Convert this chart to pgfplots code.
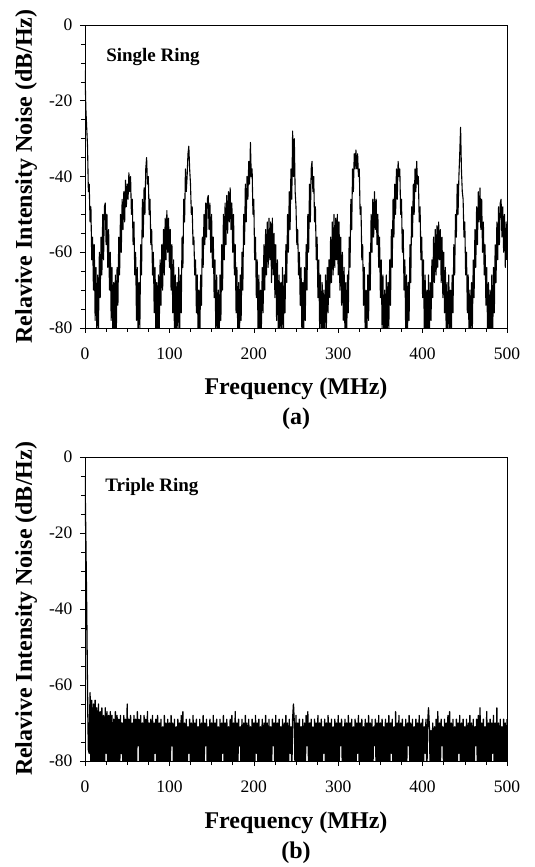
\documentclass[border=0pt]{standalone}
\usepackage{fontspec}
\setmainfont{Liberation Serif}
\usepackage{pgfplots}
\pgfplotsset{compat=1.18}

\pgfplotsset{
  rinpanel/.style={
    scale only axis, width=422pt, clip mode=individual,
    xmin=0, xmax=500, ymin=-80, ymax=0,
    xtick={0,100,...,500}, ytick={-80,-60,...,0},
    minor xtick={25,50,...,475}, minor ytick={-75,-70,...,-5},
    tick align=outside, major tick length=5pt, minor tick length=4pt,
    xtick pos=bottom, ytick pos=left,
    axis line style={line width=0.8pt},
    every tick/.style={black, line width=0.6pt},
    ticklabel style={font=\fontsize{17.5}{20}\selectfont},
    xticklabel style={yshift=-11pt},
    yticklabel style={xshift=-4pt},
    /pgf/number format/assume math mode=true,
    label style={font=\bfseries\fontsize{24}{28}\selectfont},
    xlabel={Frequency (MHz)},
    ylabel={Relavive Intensity Noise (dB/Hz)},
    xlabel style={at={(axis description cs:0.5,-0.221)}, anchor=base},
    ylabel style={at={(axis description cs:-0.1256,0.5)}, anchor=base},
  },
  rin/.style={black, line width=1.1pt, line join=round}
}

\begin{document}
\begin{tikzpicture}
\useasboundingbox (0pt,0pt) rectangle (535pt,867pt);

% (a) single ring
\begin{axis}[rinpanel, height=303pt, at={(85pt,539pt)}, anchor=south west]
\addplot[rin] coordinates {
(0,-12)(1,-22)(2,-27)(3,-32)(4,-44)(5,-42)(6,-52)(7,-48)(8,-62)(9,-56)
(10,-70)(11,-58)(12,-78)(13,-64)(14,-82)(15,-66)(16,-80)(17,-60)(18,-72)(19,-56)
(20,-66)(21,-50)(22,-62)(23,-48)(24,-47)(25,-58)(26,-50)(27,-64)(28,-54)(29,-70)
(30,-60)(31,-78)(32,-64)(33,-84)(34,-68)(35,-82)(36,-66)(37,-84)(38,-64)(39,-74)
(40,-56)(41,-66)(42,-50)(43,-60)(44,-46)(45,-54)(46,-44)(47,-52)(48,-41)(49,-48)
(50,-42)(51,-46)(52,-39)(53,-44)(54,-40)(55,-50)(56,-46)(57,-58)(58,-52)(59,-66)
(60,-60)(61,-78)(62,-64)(63,-84)(64,-68)(65,-80)(66,-58)(67,-66)(68,-46)(69,-56)
(70,-43)(71,-50)(72,-38)(73,-35)(74,-42)(75,-40)(76,-50)(77,-46)(78,-58)(79,-54)
(80,-66)(81,-60)(82,-76)(83,-64)(84,-82)(85,-68)(86,-84)(87,-66)(88,-80)(89,-62)
(90,-74)(91,-58)(92,-70)(93,-54)(94,-66)(95,-51)(96,-62)(97,-49)(98,-60)(99,-51)
(100,-64)(101,-54)(102,-70)(103,-58)(104,-76)(105,-62)(106,-82)(107,-66)(108,-84)(109,-68)
(110,-80)(111,-64)(112,-84)(113,-66)(114,-76)(115,-56)(116,-64)(117,-46)(118,-52)(119,-38)
(120,-44)(121,-40)(122,-34)(123,-32)(124,-38)(125,-42)(126,-50)(127,-48)(128,-58)(129,-56)
(130,-66)(131,-62)(132,-76)(133,-66)(134,-82)(135,-70)(136,-84)(137,-66)(138,-74)(139,-56)
(140,-64)(141,-50)(142,-58)(143,-47)(144,-56)(145,-46)(146,-45)(147,-54)(148,-47)(149,-60)
(150,-50)(151,-64)(152,-56)(153,-72)(154,-62)(155,-82)(156,-66)(157,-80)(158,-70)(159,-84)
(160,-66)(161,-78)(162,-58)(163,-70)(164,-50)(165,-62)(166,-47)(167,-58)(168,-45)(169,-55)
(170,-44)(171,-52)(172,-43)(173,-54)(174,-47)(175,-60)(176,-50)(177,-66)(178,-58)(179,-76)
(180,-64)(181,-82)(182,-68)(183,-84)(184,-66)(185,-78)(186,-60)(187,-70)(188,-50)(189,-58)
(190,-42)(191,-52)(192,-40)(193,-46)(194,-36)(195,-42)(196,-31)(197,-40)(198,-38)(199,-50)
(200,-46)(201,-62)(202,-56)(203,-72)(204,-62)(205,-80)(206,-66)(207,-84)(208,-70)(209,-80)
(210,-64)(211,-76)(212,-58)(213,-70)(214,-54)(215,-66)(216,-52)(217,-64)(218,-51)(219,-62)
(220,-52)(221,-68)(222,-51)(223,-66)(224,-55)(225,-72)(226,-58)(227,-78)(228,-62)(229,-82)
(230,-66)(231,-84)(232,-68)(233,-80)(234,-64)(235,-84)(236,-66)(237,-76)(238,-58)(239,-68)
(240,-50)(241,-60)(242,-44)(243,-54)(244,-38)(245,-46)(246,-28)(247,-40)(248,-30)(249,-44)
(250,-48)(251,-58)(252,-54)(253,-66)(254,-60)(255,-74)(256,-64)(257,-82)(258,-68)(259,-84)
(260,-64)(261,-78)(262,-58)(263,-70)(264,-50)(265,-60)(266,-42)(267,-52)(268,-38)(269,-36)
(270,-44)(271,-40)(272,-52)(273,-48)(274,-62)(275,-56)(276,-72)(277,-62)(278,-80)(279,-66)
(280,-84)(281,-68)(282,-82)(283,-70)(284,-84)(285,-66)(286,-80)(287,-64)(288,-76)(289,-62)
(290,-72)(291,-56)(292,-68)(293,-52)(294,-66)(295,-50)(296,-64)(297,-51)(298,-62)(299,-50)
(300,-66)(301,-52)(302,-70)(303,-56)(304,-74)(305,-60)(306,-78)(307,-64)(308,-82)(309,-68)
(310,-84)(311,-66)(312,-76)(313,-56)(314,-64)(315,-46)(316,-54)(317,-38)(318,-44)(319,-34)
(320,-38)(321,-33)(322,-38)(323,-34)(324,-40)(325,-38)(326,-50)(327,-48)(328,-62)(329,-58)
(330,-74)(331,-64)(332,-82)(333,-70)(334,-84)(335,-66)(336,-78)(337,-60)(338,-70)(339,-50)
(340,-60)(341,-46)(342,-56)(343,-44)(344,-54)(345,-46)(346,-58)(347,-50)(348,-64)(349,-56)
(350,-72)(351,-62)(352,-80)(353,-66)(354,-84)(355,-70)(356,-82)(357,-66)(358,-84)(359,-68)
(360,-80)(361,-62)(362,-74)(363,-54)(364,-64)(365,-46)(366,-56)(367,-42)(368,-50)(369,-38)
(370,-46)(371,-36)(372,-40)(373,-38)(374,-50)(375,-46)(376,-60)(377,-54)(378,-70)(379,-62)
(380,-82)(381,-66)(382,-84)(383,-68)(384,-78)(385,-58)(386,-68)(387,-48)(388,-56)(389,-42)
(390,-50)(391,-38)(392,-44)(393,-36)(394,-42)(395,-40)(396,-52)(397,-48)(398,-62)(399,-56)
(400,-72)(401,-62)(402,-80)(403,-66)(404,-84)(405,-70)(406,-82)(407,-66)(408,-84)(409,-68)
(410,-78)(411,-62)(412,-72)(413,-56)(414,-68)(415,-54)(416,-66)(417,-53)(418,-64)(419,-52)
(420,-62)(421,-54)(422,-68)(423,-56)(424,-72)(425,-60)(426,-76)(427,-64)(428,-82)(429,-68)
(430,-84)(431,-66)(432,-80)(433,-70)(434,-84)(435,-66)(436,-76)(437,-58)(438,-66)(439,-50)
(440,-56)(441,-42)(442,-50)(443,-40)(444,-34)(445,-27)(446,-38)(447,-44)(448,-46)(449,-56)
(450,-52)(451,-66)(452,-60)(453,-76)(454,-66)(455,-82)(456,-70)(457,-84)(458,-68)(459,-80)
(460,-62)(461,-72)(462,-54)(463,-64)(464,-48)(465,-58)(466,-44)(467,-52)(468,-43)(469,-54)
(470,-46)(471,-60)(472,-52)(473,-66)(474,-58)(475,-74)(476,-64)(477,-82)(478,-68)(479,-84)
(480,-70)(481,-80)(482,-66)(483,-84)(484,-64)(485,-76)(486,-58)(487,-68)(488,-52)(489,-62)
(490,-48)(491,-58)(492,-47)(493,-46)(494,-56)(495,-48)(496,-60)(497,-50)(498,-64)(499,-52)(500,-62)
};
\node[anchor=base west, font=\bfseries\fontsize{19}{22}\selectfont] at (rel axis cs:0.042,0.878) {Single Ring};
\node[anchor=base, font=\bfseries\fontsize{24}{28}\selectfont] at (rel axis cs:0.5,-0.32) {(a)};
\end{axis}

% (b) triple ring
\begin{axis}[rinpanel, height=304pt, at={(85pt,106pt)}, anchor=south west]
\addplot[rin, line width=1.3pt] coordinates {
(0,-5)(1,-22)(2,-40)(3,-62)(4,-77)(5,-78)(6,-62)(7,-84)(8,-64)(9,-84)
(10,-65)(11,-80)(12,-64)(13,-84)(14,-66)(15,-82)(16,-65)(17,-84)(18,-67)(19,-80)
(20,-66)(21,-84)(22,-68)(23,-84)(24,-66)(25,-78)(26,-67)(27,-84)(28,-68)(29,-84)
(30,-67)(31,-82)(32,-68)(33,-84)(34,-69)(35,-84)(36,-67)(37,-80)(38,-68)(39,-84)
(40,-69)(41,-84)(42,-68)(43,-78)(44,-70)(45,-84)(46,-68)(47,-84)(48,-69)(49,-82)
(50,-65)(51,-84)(52,-69)(53,-84)(54,-68)(55,-80)(56,-70)(57,-84)(58,-68)(59,-84)
(60,-69)(61,-84)(62,-67)(63,-76)(64,-69)(65,-84)(66,-68)(67,-84)(68,-70)(69,-82)
(70,-68)(71,-84)(72,-69)(73,-84)(74,-67)(75,-80)(76,-70)(77,-84)(78,-69)(79,-84)
(80,-68)(81,-84)(82,-70)(83,-78)(84,-69)(85,-84)(86,-68)(87,-84)(88,-70)(89,-82)
(90,-69)(91,-84)(92,-71)(93,-84)(94,-68)(95,-80)(96,-70)(97,-84)(98,-69)(99,-84)
(100,-70)(101,-84)(102,-68)(103,-76)(104,-70)(105,-84)(106,-69)(107,-84)(108,-71)(109,-82)
(110,-69)(111,-84)(112,-70)(113,-84)(114,-68)(115,-80)(116,-67)(117,-84)(118,-70)(119,-84)
(120,-69)(121,-84)(122,-71)(123,-78)(124,-69)(125,-84)(126,-70)(127,-84)(128,-68)(129,-82)
(130,-70)(131,-84)(132,-69)(133,-84)(134,-71)(135,-80)(136,-69)(137,-84)(138,-70)(139,-84)
(140,-68)(141,-84)(142,-70)(143,-76)(144,-69)(145,-84)(146,-71)(147,-84)(148,-69)(149,-82)
(150,-70)(151,-84)(152,-68)(153,-84)(154,-70)(155,-80)(156,-69)(157,-84)(158,-71)(159,-84)
(160,-69)(161,-84)(162,-70)(163,-78)(164,-68)(165,-84)(166,-70)(167,-84)(168,-69)(169,-82)
(170,-71)(171,-84)(172,-69)(173,-84)(174,-68)(175,-80)(176,-70)(177,-84)(178,-67)(179,-84)
(180,-70)(181,-84)(182,-69)(183,-76)(184,-71)(185,-84)(186,-69)(187,-84)(188,-70)(189,-82)
(190,-68)(191,-84)(192,-70)(193,-84)(194,-69)(195,-80)(196,-71)(197,-84)(198,-69)(199,-84)
(200,-70)(201,-84)(202,-68)(203,-78)(204,-70)(205,-84)(206,-69)(207,-84)(208,-71)(209,-82)
(210,-69)(211,-84)(212,-70)(213,-84)(214,-68)(215,-80)(216,-70)(217,-84)(218,-69)(219,-84)
(220,-71)(221,-84)(222,-69)(223,-76)(224,-70)(225,-84)(226,-68)(227,-84)(228,-70)(229,-82)
(230,-69)(231,-84)(232,-71)(233,-84)(234,-69)(235,-80)(236,-70)(237,-84)(238,-68)(239,-84)
(240,-70)(241,-84)(242,-69)(243,-78)(244,-71)(245,-84)(246,-69)(247,-65)(248,-70)(249,-84)
(250,-68)(251,-84)(252,-70)(253,-84)(254,-69)(255,-80)(256,-71)(257,-84)(258,-69)(259,-84)
(260,-70)(261,-84)(262,-68)(263,-76)(264,-67)(265,-84)(266,-70)(267,-84)(268,-69)(269,-82)
(270,-71)(271,-84)(272,-69)(273,-84)(274,-70)(275,-80)(276,-68)(277,-84)(278,-70)(279,-84)
(280,-69)(281,-84)(282,-71)(283,-78)(284,-69)(285,-84)(286,-70)(287,-84)(288,-68)(289,-82)
(290,-70)(291,-84)(292,-69)(293,-84)(294,-71)(295,-80)(296,-69)(297,-84)(298,-70)(299,-84)
(300,-68)(301,-84)(302,-70)(303,-76)(304,-69)(305,-84)(306,-71)(307,-84)(308,-69)(309,-82)
(310,-70)(311,-84)(312,-68)(313,-84)(314,-70)(315,-80)(316,-69)(317,-84)(318,-71)(319,-84)
(320,-69)(321,-84)(322,-70)(323,-78)(324,-68)(325,-84)(326,-70)(327,-84)(328,-69)(329,-82)
(330,-71)(331,-84)(332,-69)(333,-84)(334,-70)(335,-80)(336,-68)(337,-84)(338,-70)(339,-84)
(340,-69)(341,-84)(342,-71)(343,-76)(344,-69)(345,-84)(346,-70)(347,-84)(348,-68)(349,-82)
(350,-70)(351,-84)(352,-69)(353,-84)(354,-71)(355,-80)(356,-69)(357,-84)(358,-70)(359,-84)
(360,-68)(361,-84)(362,-70)(363,-78)(364,-69)(365,-84)(366,-71)(367,-84)(368,-67)(369,-82)
(370,-70)(371,-84)(372,-68)(373,-84)(374,-70)(375,-80)(376,-69)(377,-84)(378,-71)(379,-84)
(380,-69)(381,-84)(382,-70)(383,-76)(384,-68)(385,-84)(386,-70)(387,-84)(388,-69)(389,-82)
(390,-71)(391,-84)(392,-69)(393,-84)(394,-70)(395,-80)(396,-68)(397,-84)(398,-70)(399,-84)
(400,-69)(401,-84)(402,-71)(403,-78)(404,-69)(405,-84)(406,-70)(407,-66)(408,-71)(409,-82)
(410,-72)(411,-84)(412,-70)(413,-84)(414,-71)(415,-80)(416,-69)(417,-84)(418,-67)(419,-84)
(420,-70)(421,-84)(422,-69)(423,-76)(424,-71)(425,-84)(426,-69)(427,-84)(428,-70)(429,-82)
(430,-68)(431,-84)(432,-67)(433,-84)(434,-70)(435,-80)(436,-69)(437,-84)(438,-71)(439,-84)
(440,-69)(441,-84)(442,-70)(443,-78)(444,-68)(445,-84)(446,-70)(447,-84)(448,-69)(449,-82)
(450,-71)(451,-84)(452,-69)(453,-84)(454,-70)(455,-80)(456,-68)(457,-84)(458,-70)(459,-84)
(460,-69)(461,-84)(462,-71)(463,-76)(464,-69)(465,-84)(466,-68)(467,-84)(468,-66)(469,-82)
(470,-70)(471,-84)(472,-69)(473,-84)(474,-71)(475,-80)(476,-67)(477,-84)(478,-70)(479,-84)
(480,-69)(481,-84)(482,-70)(483,-78)(484,-68)(485,-84)(486,-70)(487,-84)(488,-66)(489,-82)
(490,-70)(491,-84)(492,-69)(493,-84)(494,-71)(495,-80)(496,-69)(497,-84)(498,-70)(499,-84)(500,-69)
};
\node[anchor=base west, font=\bfseries\fontsize{19}{22}\selectfont] at (rel axis cs:0.04,0.886) {Triple Ring};
\node[anchor=base, font=\bfseries\fontsize{24}{28}\selectfont] at (rel axis cs:0.5,-0.32) {(b)};
\end{axis}
\end{tikzpicture}
\end{document}
